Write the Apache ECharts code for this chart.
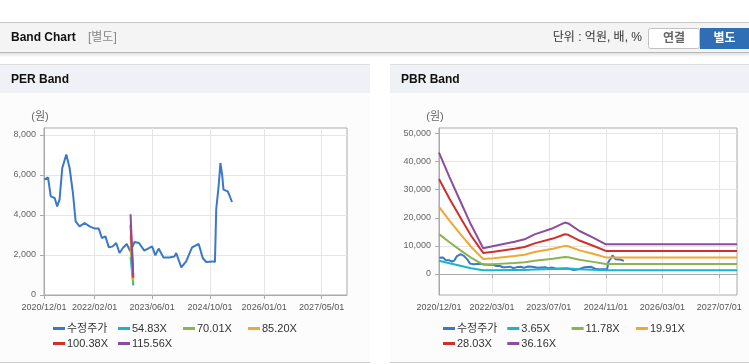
<!DOCTYPE html>
<html>
<head>
<meta charset="utf-8">
<script src="https://cdn.jsdelivr.net/npm/echarts@6/dist/echarts.min.js"></script>
<style>
html, body { margin: 0; padding: 0; background: #fff; }
#chart { width: 749px; height: 364px; }
</style>
</head>
<body>
<div id="chart"></div>
<script>
// 수정주가 (두 차트 공통)
var priceDates = ['2020-12-04', '2021-01-04', '2021-01-27', '2021-03-01', '2021-03-22', '2021-04-11', '2021-05-04', '2021-06-07',
	'2021-07-05', '2021-08-02', '2021-08-25', '2021-09-27', '2021-11-09', '2021-12-20', '2022-02-02', '2022-03-08',
	'2022-04-03', '2022-05-03', '2022-06-01', '2022-07-04', '2022-08-02', '2022-08-30', '2022-09-27', '2022-10-30',
	'2022-11-29', '2023-01-04', '2023-02-10', '2023-03-27', '2023-06-01', '2023-06-28', '2023-07-26', '2023-09-05',
	'2023-10-25', '2023-12-07', '2023-12-21', '2024-02-02', '2024-03-14', '2024-05-03', '2024-06-28', '2024-08-01',
	'2024-08-30', '2024-10-25', '2024-11-12', '2024-11-23', '2024-12-14', '2024-12-28', '2025-01-12', '2025-01-23',
	'2025-02-28', '2025-03-13', '2025-04-05'];
var priceValues = [5770, 5880, 4930, 4850, 4430, 4770, 6350, 7020,
	6350, 5100, 3680, 3430, 3600, 3430, 3320, 3320,
	2850, 2930, 2380, 2430, 2600, 2100, 2350, 2550,
	2180, 2650, 2600, 2220, 2430, 1980, 2320, 1880,
	1880, 1930, 2100, 1380, 1680, 2380, 2550, 1850,
	1650, 1680, 1650, 4300, 5500, 6600, 6000, 5270,
	5180, 5000, 4650];

// PER 밴드
var perNames = ['수정주가', '54.83X', '70.01X', '85.20X', '100.38X', '115.56X'];
var perBandDates = ['2022-12-01', '2022-12-24'];
var perBand5483 = [1920, 480];
var perBand7001 = [2450, 610];
var perBand8520 = [2980, 740];
var perBand10038 = [3510, 870];
var perBand11556 = [4040, 1005];
var perXTicks = ['2020-12-01', '2022-02-01', '2023-06-01', '2024-10-01', '2026-01-01', '2027-05-01'];
var perYTicks = [0, 2000, 4000, 6000, 8000];

// PBR 밴드
var pbrNames = ['수정주가', '3.65X', '11.78X', '19.91X', '28.03X', '36.16X'];
var pbrBandDates = ['2020-12-01', '2021-03-01', '2021-06-01', '2021-09-01', '2021-12-15', '2022-03-15', '2022-09-10', '2022-12-05',
	'2023-03-01', '2023-08-05', '2023-11-15', '2023-12-15', '2024-03-20', '2024-07-15', '2024-11-01', '2027-12-01'];
var pbrBand365 = [4700, 3800, 2900, 2000, 1300, 1300, 1400, 1450, 1600, 1800, 2000, 1950, 1700, 1500, 1300, 1300];
var pbrBand1178 = [14200, 11300, 8500, 5800, 3300, 3500, 3900, 4150, 4700, 5400, 6050, 5950, 5050, 4300, 3550, 3550];
var pbrBand1991 = [23900, 19000, 14300, 9700, 5300, 5600, 6400, 6850, 7800, 9000, 10000, 9850, 8400, 7200, 5900, 5900];
var pbrBand2803 = [33800, 26800, 20200, 13700, 7500, 7900, 9000, 9600, 10900, 12600, 14150, 13950, 11900, 10050, 8200, 8200];
var pbrBand3616 = [43200, 34500, 26000, 17600, 9150, 9950, 11500, 12350, 14100, 16300, 18300, 18000, 15300, 12950, 10550, 10550];
var pbrXTicks = ['2020-12-01', '2022-03-01', '2023-07-01', '2024-11-01', '2026-03-01', '2027-07-01'];
var pbrYTicks = [0, 10000, 20000, 30000, 40000, 50000];

var colors = ['#3a78c8', '#1ab5c9', '#8db350', '#f0a733', '#d0302b', '#8c4d9e'];
var FONT = '"Liberation Sans", Arial, "Noto Sans CJK KR", sans-serif';

function ts(s) {
	return echarts.number.parseDate(s).getTime();
}
function pairs(dates, values) {
	return dates.map(function (d, i) { return [ts(d), values[i]]; });
}
function pad(n) {
	return n < 10 ? '0' + n : '' + n;
}
function dateLabel(v) {
	var d = new Date(v);
	return d.getFullYear() + '/' + pad(d.getMonth() + 1) + '/' + pad(d.getDate());
}

// x축은 타임스탬프 값축 + 지정 눈금
function makeXAxis(gridIndex, ticks) {
	var tickValues = ticks.map(ts);
	return {
		type: 'value',
		gridIndex: gridIndex,
		min: ts('2020-12-01'),
		max: ts('2027-12-01'),
		axisLine: { show: true, lineStyle: { color: '#aaa' } },
		axisTick: { show: true, length: 4, lineStyle: { color: '#aaa' }, customValues: tickValues },
		axisLabel: {
			customValues: tickValues,
			formatter: dateLabel,
			color: '#555',
			fontSize: 9,
			fontFamily: FONT,
			margin: 8
		},
		splitLine: { show: true, lineStyle: { color: '#e6e6e6' } }
	};
}

function makeYAxis(gridIndex, min, max, ticks) {
	return {
		type: 'value',
		gridIndex: gridIndex,
		min: min,
		max: max,
		name: '(원)',
		nameLocation: 'end',
		nameGap: 6,
		nameTextStyle: { color: '#666', fontSize: 11, fontFamily: FONT, align: 'center', padding: [0, 8, 0, 0] },
		axisLine: { show: true, lineStyle: { color: '#aaa' } },
		axisTick: { show: true, length: 4, lineStyle: { color: '#aaa' }, customValues: ticks },
		axisLabel: {
			customValues: ticks,
			formatter: function (v) { return v.toLocaleString('en-US'); },
			color: '#666',
			fontSize: 9,
			fontFamily: FONT,
			margin: 8
		},
		splitLine: { show: true, lineStyle: { color: '#e6e6e6' } }
	};
}

function lineSeries(name, idx, data, color) {
	return {
		name: name,
		type: 'line',
		xAxisIndex: idx,
		yAxisIndex: idx,
		data: data,
		showSymbol: false,
		symbol: 'none',
		color: color,
		lineStyle: { width: 2, color: color },
		emphasis: { disabled: true }
	};
}

// 범례는 항목별로 따로 배치 (4열 격자)
function makeLegends(names, baseLeft, colWidth) {
	return names.map(function (name, i) {
		return {
			data: [{ name: name }],
			left: baseLeft + (i % 4) * colWidth,
			top: 323 + Math.floor(i / 4) * 15,
			padding: 0,
			icon: 'rect',
			itemWidth: 12,
			itemHeight: 3,
			selectedMode: false,
			textStyle: { fontSize: 11, color: '#333', fontFamily: FONT, padding: [0, 0, 0, -3] }
		};
	});
}

var perBands = [perBand5483, perBand7001, perBand8520, perBand10038, perBand11556];
var pbrBands = [pbrBand365, pbrBand1178, pbrBand1991, pbrBand2803, pbrBand3616];

var series = [lineSeries(perNames[0], 0, pairs(priceDates, priceValues), colors[0])];
perBands.forEach(function (vals, i) {
	series.push(lineSeries(perNames[i + 1], 0, pairs(perBandDates, vals), colors[i + 1]));
});
series.push(lineSeries(pbrNames[0], 1, pairs(priceDates, priceValues), colors[0]));
pbrBands.forEach(function (vals, i) {
	series.push(lineSeries(pbrNames[i + 1], 1, pairs(pbrBandDates, vals), colors[i + 1]));
});

function rect(x, y, w, h, fill, z) {
	return { type: 'rect', z: z == null ? -10 : z, silent: true, shape: { x: x, y: y, width: w, height: h }, style: { fill: fill } };
}
function text(x, y, str, font, fill, align) {
	return { type: 'text', z: 5, silent: true, style: { x: x, y: y, text: str, font: font, fill: fill, align: align || 'left', verticalAlign: 'middle' } };
}

var graphics = [
	// 상단 타이틀 바
	rect(0, 22, 749, 1, '#c8c8c8'),
	rect(0, 23, 749, 29, '#f4f4f4'),
	rect(0, 52, 749, 1, '#b8b8b8'),
	{
		type: 'rect', z: -10, silent: true, shape: { x: 0, y: 53, width: 749, height: 4 },
		style: { fill: new echarts.graphic.LinearGradient(0, 0, 0, 1, [{ offset: 0, color: 'rgba(0,0,0,0.12)' }, { offset: 1, color: 'rgba(0,0,0,0)' }]) }
	},
	text(11, 38, 'Band Chart', 'bold 12px ' + FONT, '#111'),
	text(88, 38, '[별도]', '12px ' + FONT, '#888'),
	text(642, 38, '단위 : 억원, 배, %', '12px ' + FONT, '#333', 'right'),
	{ type: 'rect', z: -5, silent: true, shape: { x: 648.5, y: 28.5, width: 51, height: 20, r: 2 }, style: { fill: '#fff', stroke: '#c2c2c2', lineWidth: 1 } },
	text(674, 38.5, '연결', 'bold 12px ' + FONT, '#666', 'center'),
	rect(700, 28, 49, 21, '#2f6db5', -5),
	text(724.5, 38.5, '별도', 'bold 12px ' + FONT, '#fff', 'center'),
	// PER 패널
	rect(0, 64, 370, 1, '#dcdcdc'),
	rect(0, 65, 370, 28, '#eef1f6'),
	rect(0, 93, 370, 269, '#fcfcfc'),
	rect(0, 362, 370, 1, '#cfcfcf'),
	text(11, 80, 'PER Band', 'bold 12px ' + FONT, '#111'),
	// PBR 패널
	rect(390, 64, 359, 1, '#dcdcdc'),
	rect(390, 65, 359, 28, '#eef1f6'),
	rect(390, 93, 359, 269, '#fcfcfc'),
	rect(390, 362, 359, 1, '#cfcfcf'),
	text(401, 80, 'PBR Band', 'bold 12px ' + FONT, '#111')
];

var myChart = echarts.init(document.getElementById('chart'));
myChart.setOption({
	animation: false,
	backgroundColor: '#fff',
	textStyle: { fontFamily: FONT },
	graphic: { elements: graphics },
	grid: [
		{ left: 44, top: 128, width: 303, height: 167, show: true, borderColor: '#aaa', borderWidth: 1, backgroundColor: '#fff', z: 0 },
		{ left: 439, top: 128, width: 298, height: 167, show: true, borderColor: '#aaa', borderWidth: 1, backgroundColor: '#fff', z: 0 }
	],
	xAxis: [makeXAxis(0, perXTicks), makeXAxis(1, pbrXTicks)],
	yAxis: [makeYAxis(0, 0, 8350, perYTicks), makeYAxis(1, -7500, 52000, pbrYTicks)],
	legend: makeLegends(perNames, 53, 65).concat(makeLegends(pbrNames, 443, 64.3)),
	series: series
});
</script>
</body>
</html>
